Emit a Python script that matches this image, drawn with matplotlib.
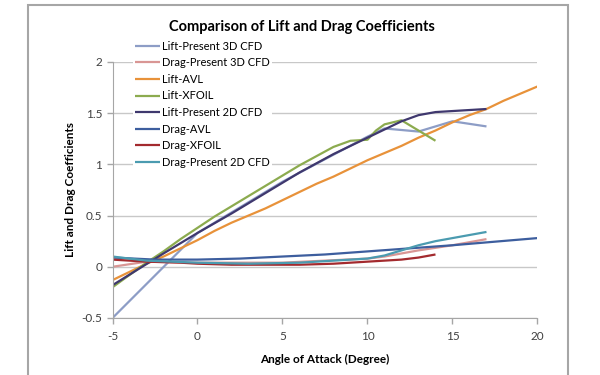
import matplotlib
import matplotlib.pyplot as plt
from matplotlib.patches import Rectangle

matplotlib.use('Agg') #no display here

#data (angle of attack in degrees, coefficient)
lift_3d_x = [-5, 0, 5, 10, 11, 13, 15, 17]
lift_3d_y = [-0.5, 0.33, 0.83, 1.27, 1.35, 1.32, 1.42, 1.37]

drag_3d_x = [-5, -3, 0, 5, 10, 11, 13, 15, 17]
drag_3d_y = [0.0, 0.05, 0.04, 0.04, 0.08, 0.1, 0.16, 0.21, 0.27]

lift_avl_x = [-5, -4, -3, -2, -1, 0, 1, 2, 3, 4, 5, 6, 7, 8, 9, 10, 11, 12, 13, 14, 15, 16, 17, 18, 19, 20]
lift_avl_y = [-0.13, -0.05, 0.03, 0.1, 0.18, 0.26, 0.35, 0.43, 0.5, 0.57, 0.65, 0.73, 0.81, 0.88, 0.96, 1.04,
              1.11, 1.18, 1.26, 1.33, 1.41, 1.48, 1.54, 1.62, 1.69, 1.76]

lift_xfoil_x = [-5, -4, -3, -2, -1, 0, 1, 2, 3, 4, 5, 6, 7, 8, 9, 10, 10.5, 11, 12, 13, 14]
lift_xfoil_y = [-0.2, -0.08, 0.04, 0.15, 0.27, 0.38, 0.49, 0.59, 0.69, 0.79, 0.89, 0.99, 1.08, 1.17, 1.23, 1.24,
                1.33, 1.39, 1.43, 1.33, 1.23]

lift_2d_x = [-5, -2, 0, 2, 4, 6, 8, 10, 11, 12, 13, 14, 17]
lift_2d_y = [-0.18, 0.13, 0.33, 0.52, 0.72, 0.92, 1.1, 1.26, 1.34, 1.42, 1.48, 1.51, 1.54]

drag_avl_x = [-5, -2.5, 0, 2.5, 5, 7.5, 10, 12.5, 15, 17.5, 20]
drag_avl_y = [0.09, 0.07, 0.07, 0.08, 0.1, 0.12, 0.15, 0.18, 0.21, 0.245, 0.28]

drag_xfoil_x = [-5, -3, -1, 0, 2, 4, 6, 8, 10, 11, 12, 13, 14]
drag_xfoil_y = [0.07, 0.05, 0.04, 0.03, 0.02, 0.02, 0.02, 0.03, 0.05, 0.06, 0.07, 0.09, 0.12]

drag_2d_x = [-5, -3, 0, 3, 6, 9, 10, 11, 12, 13, 14, 15, 17]
drag_2d_y = [0.1, 0.06, 0.04, 0.03, 0.04, 0.07, 0.08, 0.11, 0.16, 0.21, 0.25, 0.28, 0.34]

x_ticks = [-5, 0, 5, 10, 15, 20]
y_ticks = [-0.5, 0, 0.5, 1, 1.5, 2]
y_tick_labels = ['-0.5', '0', '0.5', '1', '1.5', '2']

plt.rcParams['font.family'] = ['Lato', 'DejaVu Sans']
plt.rcParams['axes.unicode_minus'] = False #excel uses a plain hyphen

fig = plt.figure(figsize=(6, 3.75), dpi=100)
ax = fig.add_axes([0.1875, 0.152, 0.7083, 0.683])

#outer chart border like the excel chart area
fig.add_artist(Rectangle((28 / 600, -0.02), 540 / 600, 1.0067, transform=fig.transFigure,
                         fill=False, edgecolor='#a6a6a6', linewidth=1.5))

series = [
    (lift_3d_x, lift_3d_y, '#8d9dc6', 'Lift-Present 3D CFD'),
    (drag_3d_x, drag_3d_y, '#d99694', 'Drag-Present 3D CFD'),
    (lift_avl_x, lift_avl_y, '#e8923a', 'Lift-AVL'),
    (lift_xfoil_x, lift_xfoil_y, '#8cab4f', 'Lift-XFOIL'),
    (lift_2d_x, lift_2d_y, '#3f386e', 'Lift-Present 2D CFD'),
    (drag_avl_x, drag_avl_y, '#3d5e9e', 'Drag-AVL'),
    (drag_xfoil_x, drag_xfoil_y, '#a32a2e', 'Drag-XFOIL'),
    (drag_2d_x, drag_2d_y, '#4b9bb0', 'Drag-Present 2D CFD'),
]
for xs, ys, color, label in series:
    ax.plot(xs, ys, color=color, linewidth=1.6, label=label, solid_capstyle='butt')

ax.set_xlim(-5, 20)
ax.set_ylim(-0.5, 2)
ax.set_xticks(x_ticks)
ax.set_yticks(y_ticks)
ax.set_yticklabels(y_tick_labels)
ax.grid(True, axis='y', color='#c8c8c8', linewidth=1)
ax.set_axisbelow(True)
for side in ['top', 'right']:
    ax.spines[side].set_visible(False)
for side in ['left', 'bottom']:
    ax.spines[side].set_color('#a6a6a6')
ax.tick_params(colors='#a6a6a6', labelcolor='#404040', labelsize=8.5, length=4, width=1)
ax.tick_params(axis='x', pad=5)

ax.set_xlabel('Angle of Attack (Degree)', fontsize=8.5, fontweight='bold', labelpad=9)
ax.set_ylabel('Lift and Drag Coefficients', fontsize=8.5, fontweight='bold', labelpad=4)
fig.text(0.503, 0.928, 'Comparison of Lift and Drag Coefficients', ha='center', va='center',
         fontsize=10.5, fontweight='bold')

leg = ax.legend(loc='upper left', bbox_to_anchor=(127 / 600, 1 - 33 / 375), bbox_transform=fig.transFigure,
                fontsize=8, handlelength=2.3, handletextpad=0.15, labelspacing=0.5, borderpad=0.2,
                frameon=True, fancybox=False, framealpha=1, facecolor='white', edgecolor='none')

plt.savefig('out.png', dpi=100)
plt.close()
